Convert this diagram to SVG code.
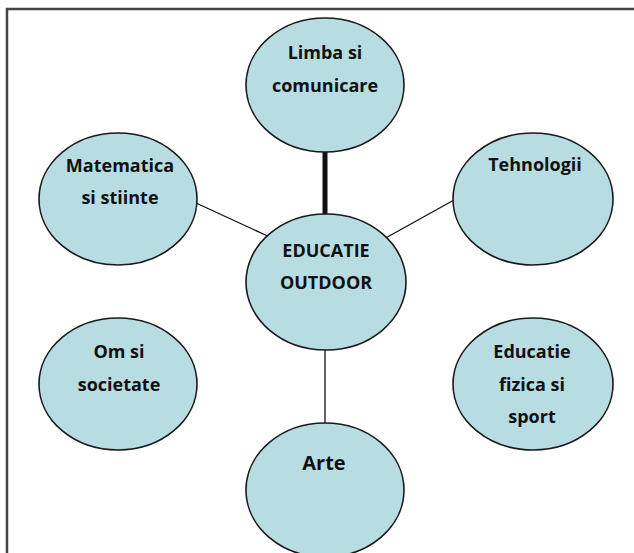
<svg xmlns="http://www.w3.org/2000/svg" width="634" height="553" viewBox="0 0 634 553">
<style>
.n ellipse{fill:#b7dde2;stroke:#1a1a1a;stroke-width:1.6}
.n text{font-family:"Open Sans","Liberation Sans",sans-serif;font-weight:bold;font-size:18px;fill:#111;text-anchor:middle}
.c line{stroke:#111}
</style>
<rect x="0" y="0" width="634" height="553" fill="#ffffff"/>
<path d="M7 556 V9 H640" fill="none" stroke="#444" stroke-width="2.5"/>
<g class="c">
<line x1="325" y1="150" x2="325" y2="216" stroke-width="5"/>
<line x1="196" y1="203" x2="272" y2="238" stroke-width="1.3"/>
<line x1="454" y1="200" x2="382" y2="240" stroke-width="1.3"/>
<line x1="325" y1="349" x2="325" y2="424" stroke-width="1.3"/>
</g>
<g class="n" id="limba"><ellipse cx="325" cy="85" rx="79" ry="67"/><text x="325" y="59">Limba si</text><text x="325" y="92">comunicare</text></g>
<g class="n" id="matematica"><ellipse cx="118" cy="199" rx="79" ry="66"/><text x="120" y="172">Matematica</text><text x="120" y="204">si stiinte</text></g>
<g class="n" id="tehnologii"><ellipse cx="533" cy="199" rx="80" ry="66"/><text x="535" y="171">Tehnologii</text></g>
<g class="n" id="educatie-outdoor"><ellipse cx="326" cy="282" rx="80" ry="68"/><text x="326" y="257">EDUCATIE</text><text x="326" y="289">OUTDOOR</text></g>
<g class="n" id="om"><ellipse cx="118" cy="384" rx="79" ry="66"/><text x="119" y="358">Om si</text><text x="119" y="391">societate</text></g>
<g class="n" id="educatie-fizica"><ellipse cx="533" cy="384" rx="80" ry="66"/><text x="532" y="358">Educatie</text><text x="532" y="391">fizica si</text><text x="532" y="423">sport</text></g>
<g class="n" id="arte"><ellipse cx="325" cy="490" rx="79" ry="67"/><text x="324" y="470" style="font-size:20px">Arte</text></g>
</svg>
